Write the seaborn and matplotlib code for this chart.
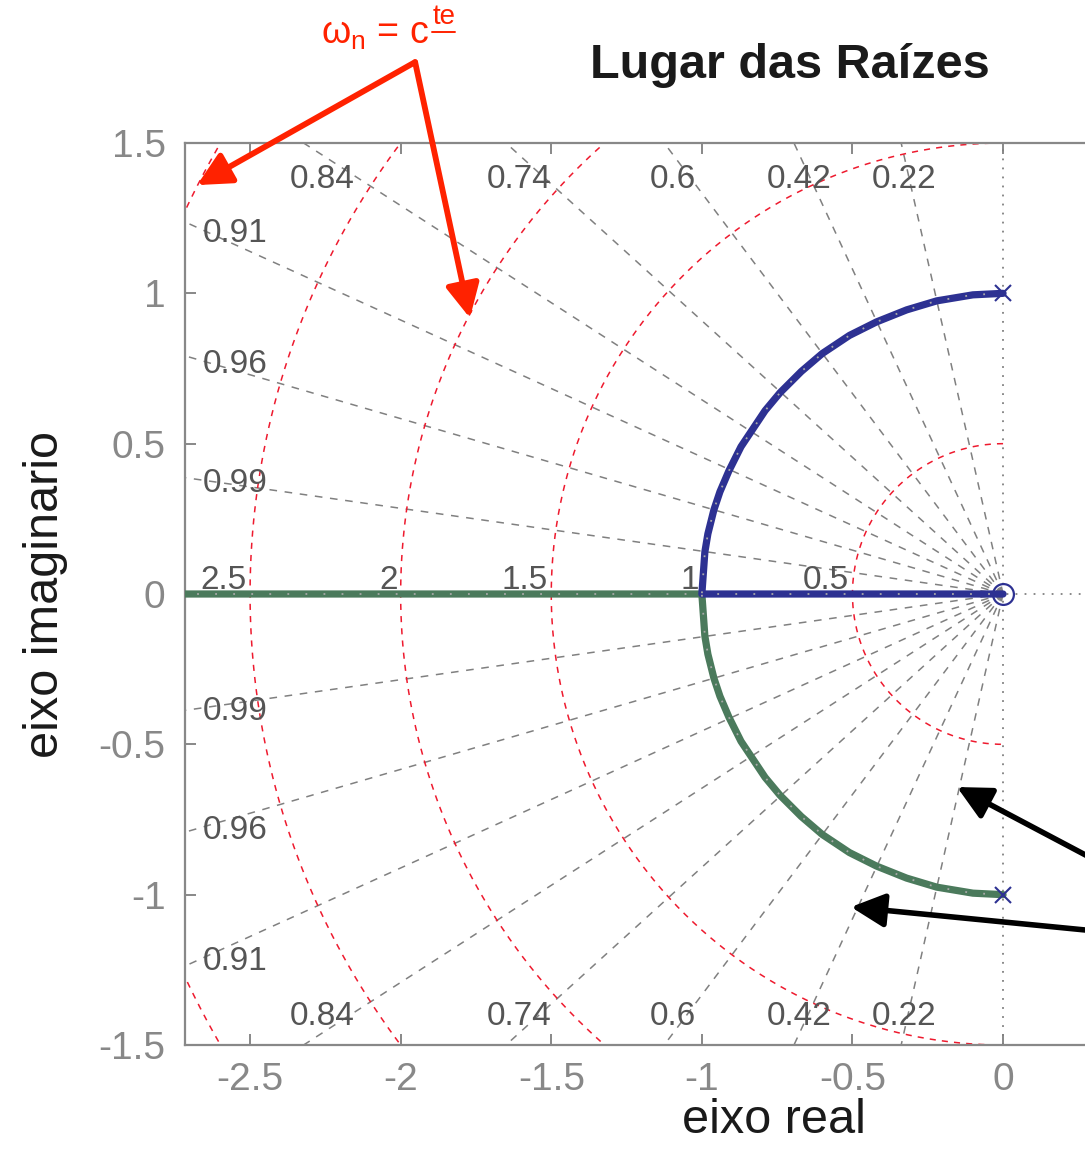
import numpy as np
import pandas as pd
import matplotlib
matplotlib.use("Agg")
import matplotlib.pyplot as plt
from matplotlib.lines import Line2D
import seaborn as sns

# ---------------- data ----------------
# upper branch (blue): from pole +j to break-in point -1, then along real axis to the zero at 0
blue_re = [0.0, -0.10, -0.22, -0.32, -0.42, -0.51, -0.60, -0.67, -0.74, -0.79, -0.83,
           -0.87, -0.91, -0.94, -0.96, -0.98, -0.99, -1.0, -0.5, 0.0]
blue_im = [1.0, 0.995, 0.975, 0.945, 0.905, 0.86, 0.80, 0.74, 0.67, 0.61, 0.55,
           0.49, 0.41, 0.34, 0.28, 0.20, 0.14, 0.0, 0.0, 0.0]
# lower branch (green): from pole -j to -1, then to -infinity
green_re = [0.0, -0.10, -0.22, -0.32, -0.42, -0.51, -0.60, -0.67, -0.74, -0.79, -0.83,
            -0.87, -0.91, -0.94, -0.96, -0.98, -0.99, -1.0, -2.0, -3.2]
green_im = [-1.0, -0.995, -0.975, -0.945, -0.905, -0.86, -0.80, -0.74, -0.67, -0.61, -0.55,
            -0.49, -0.41, -0.34, -0.28, -0.20, -0.14, 0.0, 0.0, 0.0]
poles_re = [0.0, 0.0]
poles_im = [1.0, -1.0]
zeros_re = [0.0]
zeros_im = [0.0]

zeta_vals = [0.22, 0.42, 0.6, 0.74, 0.84, 0.91, 0.96, 0.99]
zeta_top = [0.22, 0.42, 0.6, 0.74, 0.84]
zeta_side = [0.91, 0.96, 0.99]
wn_vals = [0.5, 1.0, 1.5, 2.0, 2.5, 3.0]
wn_labels = ["0.5", "1", "1.5", "2", "2.5"]

xticks = [-2.5, -2, -1.5, -1, -0.5, 0]
xticklabels = ["-2.5", "-2", "-1.5", "-1", "-0.5", "0"]
yticks = [-1.5, -1, -0.5, 0, 0.5, 1, 1.5]
yticklabels = ["-1.5", "-1", "-0.5", "0", "0.5", "1", "1.5"]

title = "Lugar das Raízes"
xlabel = "eixo real"
ylabel = "eixo imaginario"

# ---------------- style ----------------
sns.set_theme(style="white")
plt.rcParams["font.family"] = ["Liberation Sans", "DejaVu Sans"]
plt.rcParams["mathtext.fontset"] = "custom"
plt.rcParams["mathtext.rm"] = "Liberation Sans"
plt.rcParams["mathtext.it"] = "Liberation Sans"

BLUE = "#2d3192"
GREEN = "#4b7a5c"
RED = "#ee1a2e"
GRID = "#808080"
ARROW_RED = "#ff2200"
TICKC = "#888888"

fig = plt.figure(figsize=(10.85, 11.49), dpi=100)
W, H = 1085, 1149
x_left_px, x_right_px = 185, 1362
y_top_px, y_bot_px = 143, 1045
ax = fig.add_axes([x_left_px / W, 1 - y_bot_px / H,
                   (x_right_px - x_left_px) / W, (y_bot_px - y_top_px) / H])
XMIN = -2.716
XMAX = XMIN + (x_right_px - x_left_px) / 301.2
ax.set_xlim(XMIN, XMAX)
ax.set_ylim(-1.5, 1.5)

# ---- grid: constant damping lines ----
for z in zeta_vals:
    th = np.arccos(z)
    r = np.array([0, 6.0])
    for s in (1, -1):
        ax.plot(-r * np.cos(th), s * r * np.sin(th), color=GRID, lw=1.1,
                dashes=(5, 5), zorder=1)
# ---- grid: constant natural frequency circles ----
phi = np.linspace(np.pi / 2, 3 * np.pi / 2, 400)
for w in wn_vals:
    ax.plot(w * np.cos(phi), w * np.sin(phi), color=RED, lw=1.1,
            dashes=(4, 4), zorder=1)

# axes lines (dotted)
ax.axvline(0, color=GRID, lw=1.3, dashes=(1, 4), zorder=1)
ax.axhline(0, color=GRID, lw=1.3, dashes=(1, 4), zorder=1)

# grid labels
lab_kw = dict(fontsize=24, color="#555555", zorder=5)
for z in zeta_top:
    c = z / np.sqrt(1 - z * z)
    for s in (1, -1):
        ax.text(-1.46 * c, 1.35 if s > 0 else -1.433, f"{z:g}",
                ha="center", va="baseline", **lab_kw)
for z in zeta_side:
    t = np.sqrt(1 - z * z) / z
    ly = 2.656 * t
    for s in (1, -1):
        ax.text(-2.656, s * ly - 0.04, f"{z:g}", ha="left", va="baseline", **lab_kw)
for w, lab in zip(wn_vals, wn_labels):
    ax.text(-w - 0.01, 0.015, lab, ha="right", va="baseline", **lab_kw)

# ---- root locus branches ----
df_g = pd.DataFrame({"re": green_re, "im": green_im})
df_b = pd.DataFrame({"re": blue_re, "im": blue_im})
sns.lineplot(data=df_g, x="re", y="im", sort=False, estimator=None,
             color=GREEN, lw=5.2, ax=ax, zorder=3)
sns.lineplot(data=df_b, x="re", y="im", sort=False, estimator=None,
             color=BLUE, lw=5.2, ax=ax, zorder=3)
for d in (df_g, df_b):
    ax.plot(d["re"], d["im"], color="#a8a8a8", lw=1.3, dashes=(1, 9), zorder=4)

ax.plot(poles_re, poles_im, ls="none", marker="x", ms=12, mew=1.5, color=BLUE, zorder=6)
ax.plot(zeros_re, zeros_im, ls="none", marker="o", ms=15, mew=1.6, mfc="none",
        mec=BLUE, zorder=6)

# ---- axes styling ----
for sp in ax.spines.values():
    sp.set_color(TICKC)
    sp.set_linewidth(1.6)
ax.set_xticks(xticks)
ax.set_xticklabels(xticklabels)
ax.set_yticks(yticks)
ax.set_yticklabels(yticklabels)
ax.tick_params(direction="in", length=8, width=1.4, color=TICKC, labelcolor=TICKC,
               labelsize=28, top=True, right=True, bottom=True, left=True)
ax.tick_params(axis="y", pad=14)
ax.tick_params(axis="x", pad=12)
ax.set_xlabel(xlabel, fontsize=35, color="#1a1a1a", labelpad=0)
ax.set_ylabel(ylabel, fontsize=35, color="#1a1a1a", labelpad=22)
ax.set_title(title, fontsize=35, fontweight="bold", color="#1a1a1a", pad=47, x=0.514)
ax.grid(False)

# ---- annotations ----
apex = (-1.952, 1.769)
for tip in [(-2.676, 1.360), (-1.770, 0.918)]:
    ax.annotate("", xy=tip, xytext=apex, annotation_clip=False,
                arrowprops=dict(arrowstyle="-|>,head_length=1.7,head_width=0.85",
                                color=ARROW_RED, lw=4.2, shrinkA=0, shrinkB=0))
for tip, tail in [((-0.153, -0.642), (0.40, -0.935)), ((-0.505, -1.041), (0.40, -1.13))]:
    ax.annotate("", xy=tip, xytext=tail, annotation_clip=False,
                arrowprops=dict(arrowstyle="-|>,head_length=1.7,head_width=0.85",
                                color="black", lw=4.0, shrinkA=0, shrinkB=0))

t1 = ax.text(-2.263, 1.83, r"$\mathrm{\omega_n}$ = c", fontsize=27, color=ARROW_RED,
             ha="left", va="baseline")
fig.canvas.draw()
r = fig.canvas.get_renderer()
bb = t1.get_window_extent(r)
inv = ax.transData.inverted()
x_end = inv.transform((bb.x1, bb.y0))[0]
t2 = ax.text(x_end + 0.01, 1.895, "te", fontsize=20, color=ARROW_RED,
             ha="left", va="baseline")
fig.canvas.draw()
bb2 = t2.get_window_extent(r)
ax.add_line(Line2D([bb2.x0, bb2.x1], [bb2.y0 - 2, bb2.y0 - 2], transform=None,
                   color=ARROW_RED, lw=1.4, clip_on=False))

fig.savefig("out.png", dpi=100)
